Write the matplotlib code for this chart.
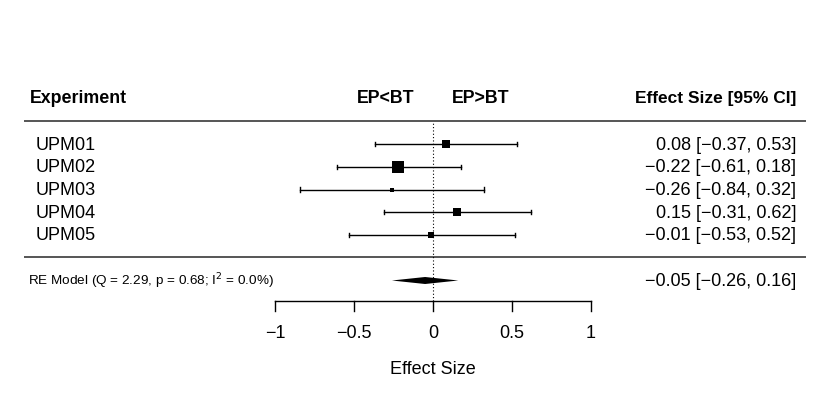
import matplotlib
matplotlib.use("Agg")
import matplotlib.pyplot as plt
import numpy as np

plt.rcParams['font.family'] = ['Liberation Sans', 'DejaVu Sans']

studies = ["UPM01", "UPM02", "UPM03", "UPM04", "UPM05"]
est = [0.08, -0.22, -0.26, 0.15, -0.01]
ci_lo = [-0.37, -0.61, -0.84, -0.31, -0.53]
ci_hi = [0.53, 0.18, 0.32, 0.62, 0.52]
re_est, re_lo, re_hi = -0.05, -0.26, 0.16
re_label = "RE Model (Q = 2.29, p = 0.68; I$^2$ = 0.0%)"
xticks = [-1, -0.5, 0, 0.5, 1]
xtick_labels = ["\u22121", "\u22120.5", "0", "0.5", "1"]

def fmt(v):
    s = f"{v:.2f}"
    return s.replace("-", "\u2212")

W, H = 830, 413
fig = plt.figure(figsize=(W/100, H/100), dpi=100)
ax = fig.add_axes([0, 0, 1, 1])
# pixel mapping: x=0 at 433px, 158 px per unit; rows 22.75 px apart
x0, sx = 433, 158
ax.set_xlim((0 - x0)/sx, (W - x0)/sx)
ry = 22.75
ax.set_ylim(5 - (H - 144)/ry, 5 + 144/ry)
ax.axis('off')

px = 1/sx
py = 1/ry
toff = -1.0*py  # small downward shift for text centring

k = len(studies)
rows = list(range(k, 0, -1))

# weights from CI widths
se = (np.array(ci_hi) - np.array(ci_lo)) / 3.92
wi = 1/se**2
psize = (wi - wi.min())/(wi.max() - wi.min()) + 0.5

xl_left, xl_right = (24 - x0)/sx, (806 - x0)/sx
lw = 1.0
fs = 13
for y in [6, 0]:
    ax.plot([xl_left, xl_right], [y+0.03, y+0.03], color='#555555', lw=1.4, solid_capstyle='butt')

# reference line
ax.plot([0, 0], [-1.9, 6], color='black', lw=0.8, ls=(0, (1, 2)))

for r, e, lo, hi, ps, name in zip(rows, est, ci_lo, ci_hi, psize, studies):
    ax.plot([lo, hi], [r, r], color='black', lw=lw)
    for xv in (lo, hi):
        ax.plot([xv, xv], [r - 2.2*py, r + 2.2*py], color='black', lw=lw)
    ax.plot([e], [r], marker='s', ms=ps*8*0.72, color='black', mec='black', mew=0)
    ax.text((36 - x0)/sx, r + toff, name, ha='left', va='center', fontsize=fs)
    ax.text((796 - x0)/sx, r + toff, f"{fmt(e)} [{fmt(lo)}, {fmt(hi)}]",
            ha='right', va='center', fontsize=fs)

# RE diamond
ry_re = -1
ax.fill([re_lo, re_est, re_hi, re_est], [ry_re, ry_re + 3.5*py, ry_re, ry_re - 3.5*py],
        color='black', lw=0)
ax.text((28 - x0)/sx, ry_re + toff, re_label, ha='left', va='center', fontsize=9.7)
ax.text((796 - x0)/sx, ry_re + toff, f"{fmt(re_est)} [{fmt(re_lo)}, {fmt(re_hi)}]",
        ha='right', va='center', fontsize=fs)

# headers
hy = 7
hfs = 12.8
ax.text((30 - x0)/sx, hy, "Experiment", ha='left', va='center', fontsize=hfs, fontweight='bold')
ax.text((796 - x0)/sx, hy, "Effect Size [95% CI]", ha='right', va='center', fontsize=12.5, fontweight='bold')
ax.text((386 - x0)/sx, hy, "EP<BT", ha='center', va='center', fontsize=hfs, fontweight='bold')
ax.text((481 - x0)/sx, hy, "EP>BT", ha='center', va='center', fontsize=hfs, fontweight='bold')

# x axis
axy = 5 - (301 - 144)/ry
ax.plot([xticks[0], xticks[-1]], [axy, axy], color='black', lw=lw)
for t, lab in zip(xticks, xtick_labels):
    ax.plot([t, t], [axy, axy - 10*py], color='black', lw=lw)
    ax.text(t, 5 - (334 - 144)/ry, lab, ha='center', va='center', fontsize=fs)
ax.text(0, 5 - (369 - 144)/ry, "Effect Size", ha='center', va='center', fontsize=fs)

fig.savefig("out.png", dpi=100)
